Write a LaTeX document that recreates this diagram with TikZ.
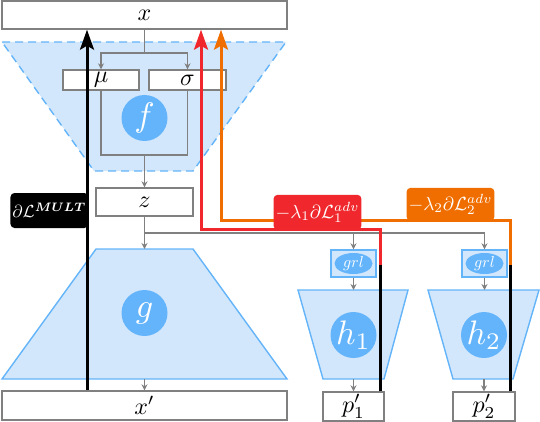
\documentclass[tikz,border=0pt]{standalone}
\usepackage{graphicx}
\usepackage{amsmath,bm}
\usetikzlibrary{arrows.meta,shapes.geometric}
\definecolor{boxgray}{RGB}{128,128,128}
\definecolor{lightfill}{RGB}{210,231,252}
\definecolor{blueline}{RGB}{100,180,250}
\definecolor{bluecirc}{RGB}{100,180,252}
\definecolor{gradred}{RGB}{240,40,45}
\definecolor{gradorange}{RGB}{240,110,0}
\newcommand{\boxtxt}[1]{\scalebox{2.4}{$#1$}}
\newcommand{\circtxt}[1]{\scalebox{3.4}{$#1$}}
\newcommand{\grltxt}[1]{\scalebox{1.6}{$#1$}}
\newcommand{\labtxt}[1]{\scalebox{1.9}{$#1$}}
\newcommand{\multtxt}[1]{\scalebox{1.75}{$#1$}}
\tikzset{
  box/.style={draw=boxgray, line width=1.4pt, fill=white, inner sep=0pt},
  conn/.style={draw=boxgray, line width=1.1pt},
  carrow/.style={conn, -{Stealth[length=6pt,width=6pt]}},
  trap/.style={fill=lightfill, draw=blueline, line width=1.4pt},
  dtrap/.style={trap, dash pattern=on 8pt off 5pt},
  ncircle/.style={circle, fill=bluecirc, text=white, minimum size=46pt, inner sep=0pt},
  grlbox/.style={draw=blueline, fill=lightfill, line width=1.4pt, minimum width=45pt, minimum height=27pt, inner sep=0pt},
  grlell/.style={ellipse, fill=bluecirc, text=white, minimum width=38pt, minimum height=21pt, inner sep=0pt},
  grad/.style={line width=3pt, -{Stealth[length=20pt,width=14pt,inset=4pt]}},
  glabel/.style={rounded corners=4pt, text=white, inner sep=2pt},
}
\begin{document}
\begin{tikzpicture}[x=1pt,y=-1pt]
\useasboundingbox (0,0) rectangle (540,422);
% shapes
\draw[dtrap] (2,42) -- (286,42) -- (193,171) -- (94,171) -- cycle;
\draw[trap] (96,249) -- (193,249) -- (287,379) -- (2,379) -- cycle;
\draw[trap] (298,290) -- (408,290) -- (384,379) -- (323,379) -- cycle;
\draw[trap] (428,290) -- (539,290) -- (513,379) -- (453,379) -- cycle;
% boxes
\node[box, minimum width=285pt, minimum height=28pt] (x) at (144.5,15) {\boxtxt{x}};
\node[box, minimum width=76pt, minimum height=20pt] (mu) at (101,80) {\boxtxt{\mu}};
\node[box, minimum width=77pt, minimum height=20pt] (sigma) at (187.5,80) {\boxtxt{\sigma}};
\node[box, minimum width=97pt, minimum height=28pt] (z) at (144.5,202) {\boxtxt{z}};
\node[box, minimum width=285pt, minimum height=29pt] (xp) at (144.5,405.5) {\boxtxt{x'}};
\node[box, minimum width=61pt, minimum height=29pt] (p1) at (353.5,406.5) {\boxtxt{p'_1}};
\node[box, minimum width=62pt, minimum height=29pt] (p2) at (484,406.5) {\boxtxt{p'_2}};
\node[grlbox] (grl1) at (353.5,263.5) {};
\node[grlbox] (grl2) at (484.5,263.5) {};
\node[grlell] (e1) at (grl1) {\grltxt{grl}};
\node[grlell] (e2) at (grl2) {\grltxt{grl}};
% coordinates
\coordinate (split) at (144.5,53);
\coordinate (enc) at (144.5,155);
\coordinate (br) at (144.5,233);
\coordinate (gtop) at (144.5,249);
\coordinate (gbot) at (144.5,379);
\coordinate (h1top) at (353.5,290);
\coordinate (h1bot) at (353.5,379);
\coordinate (h2top) at (484.5,290);
\coordinate (h2bot) at (484,379);
% connectors
\draw[conn] (x.south) -- (split);
\draw[carrow] (split) -| (mu.north);
\draw[carrow] (split) -| (sigma.north);
\draw[conn] (mu.south) |- (enc) -| (sigma.south);
\draw[carrow] (enc) -- (z.north);
\draw[carrow] (z.south) -- (gtop);
\draw[carrow] (br) -| (grl1.north);
\draw[carrow] (br) -| (grl2.north);
\draw[carrow] (grl1.south) -- (h1top);
\draw[carrow] (grl2.south) -- (h2top);
\draw[carrow] (gbot) -- (xp.north);
\draw[carrow] (h1bot) -- (p1.north);
\draw[carrow] (h2bot) -- (p2.north);
% circles
\node[ncircle] (f) at (144.5,118) {\circtxt{f}};
\node[ncircle] (g) at (144.5,313) {\circtxt{g}};
\node[ncircle] (h1) at (353.5,335) {\circtxt{h_1}};
\node[ncircle] (h2) at (484,335) {\circtxt{h_2}};
% gradient paths
\coordinate (bm) at (87,0);
\coordinate (rsw) at (380,265);
\coordinate (rc) at (201,229);
\coordinate (osw) at (510,265);
\coordinate (oc) at (221,220);
\draw[line width=3pt] (p2.north -| osw) -- (osw);
\draw[grad, gradorange] (osw) |- (oc) -- (oc |- x.south);
\draw[line width=3pt] (p1.north -| rsw) -- (rsw);
\draw[grad, gradred] (rsw) |- (rc) -- (rc |- x.south);
\draw[grad, black] (bm |- xp.north) -- (bm |- x.south);
% labels
\node[glabel, fill=black, anchor=east, minimum height=35pt] (lm) at (88.5,210.5) {\multtxt{\partial\mathcal{L}^{\bm{MULT}}}};
\node[glabel, fill=gradorange, anchor=south, minimum height=33pt] (lo) at (450.5,221) {\labtxt{-\lambda_2\partial\mathcal{L}_2^{adv}}};
\node[glabel, fill=gradred, anchor=south, minimum height=35pt] (lr) at (317.5,230) {\labtxt{-\lambda_1\partial\mathcal{L}_1^{adv}}};
\end{tikzpicture}
\end{document}
